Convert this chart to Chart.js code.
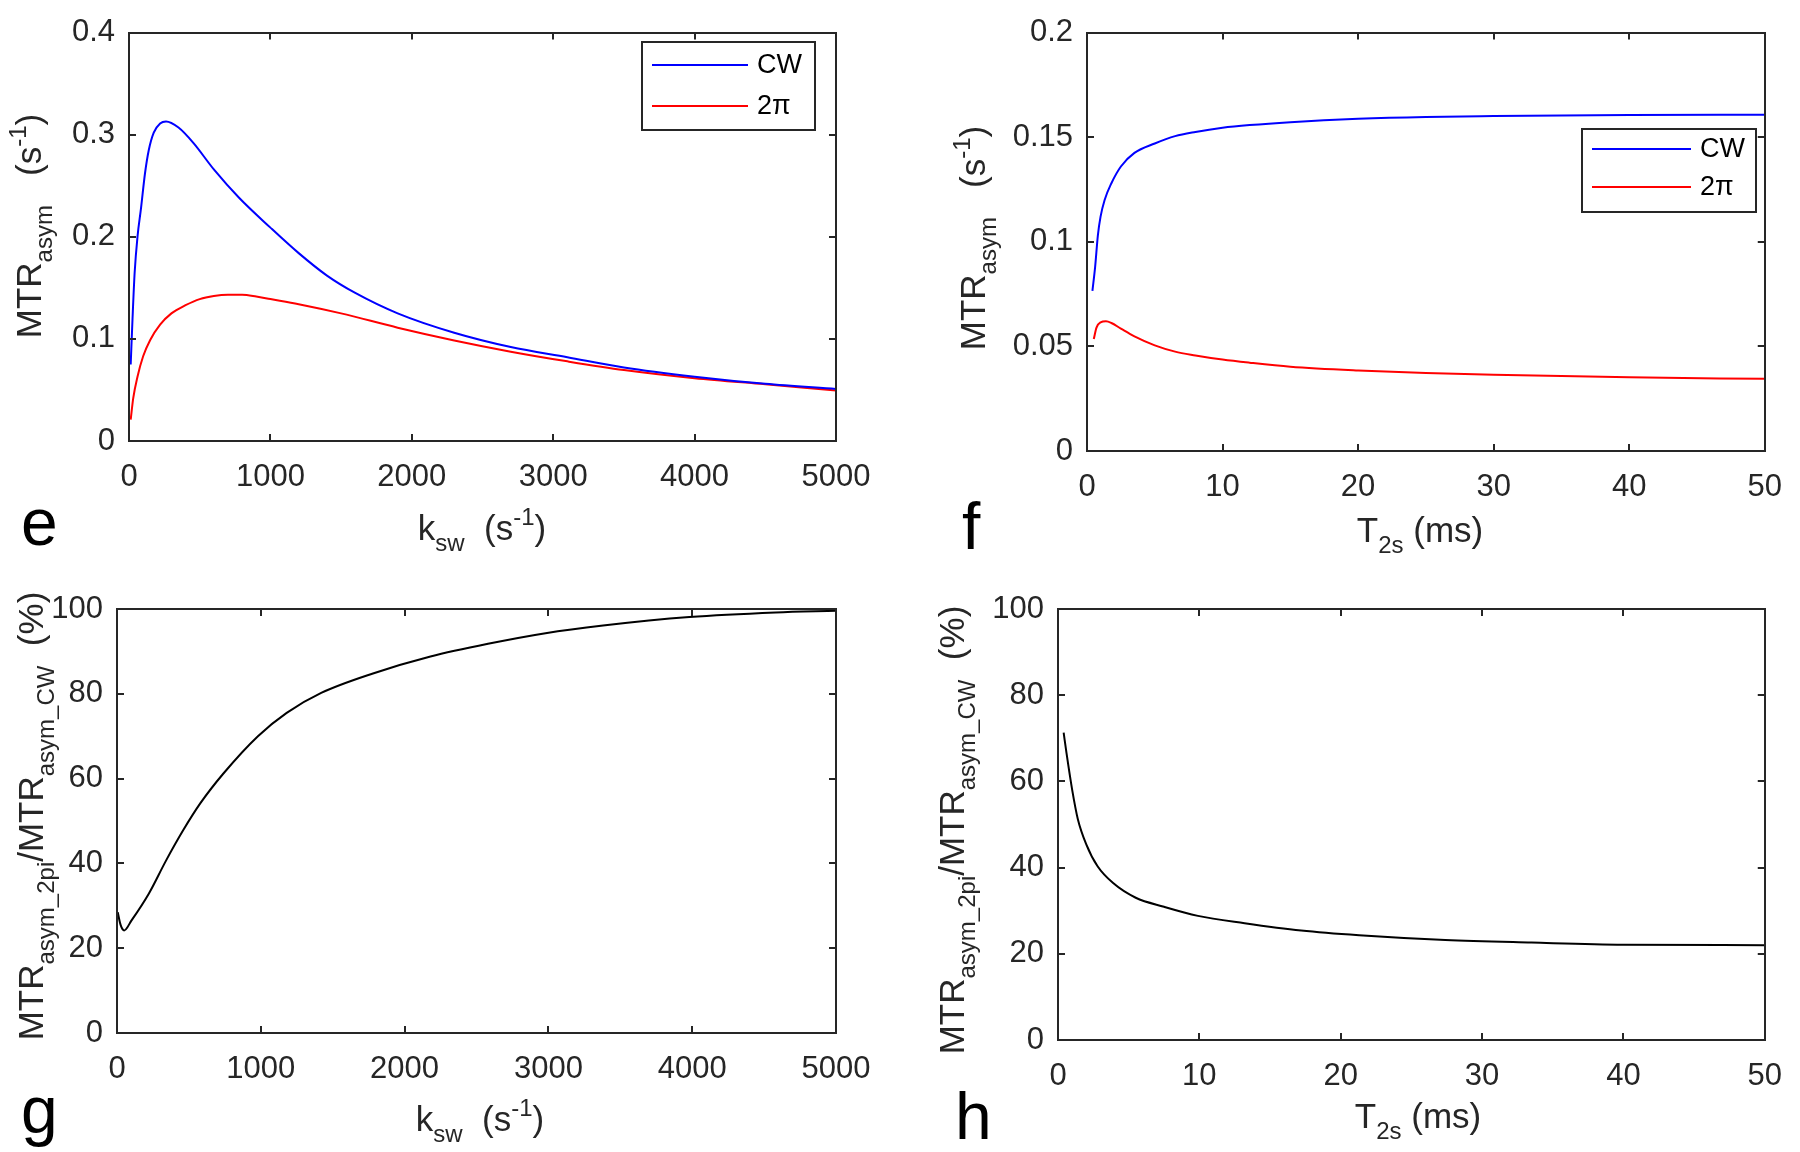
<!DOCTYPE html>
<html>
<head>
<meta charset="utf-8">
<script src="https://cdn.jsdelivr.net/npm/chart.js@4.4.0/dist/chart.umd.min.js"></script>
<style>
  html, body { margin: 0; padding: 0; background: #fff; }
  #wrap { position: relative; width: 1800px; height: 1152px; overflow: hidden; }
  .panel { position: absolute; width: 900px; height: 576px; }
</style>
</head>
<body>
<div id="wrap">
  <div class="panel" style="left:0;top:0"><canvas id="chartE" width="900" height="576"></canvas></div>
  <div class="panel" style="left:900px;top:0"><canvas id="chartF" width="900" height="576"></canvas></div>
  <div class="panel" style="left:0;top:576px"><canvas id="chartG" width="900" height="576"></canvas></div>
  <div class="panel" style="left:900px;top:576px"><canvas id="chartH" width="900" height="576"></canvas></div>
</div>
<script>
// panel e : MTRasym vs k_sw
const eCwK = [12, 25, 40, 60, 85, 113, 140, 175, 220, 262, 350, 455, 600, 780, 1000, 1200, 1400, 1600, 1900, 2300, 2700, 3100, 3500, 4000, 4500, 5000];
const eCwVal = [0.075, 0.12, 0.165, 0.2, 0.228, 0.262, 0.285, 0.302, 0.311, 0.313, 0.307, 0.292, 0.266, 0.238, 0.209, 0.184, 0.162, 0.145, 0.125, 0.106, 0.092, 0.082, 0.072, 0.063, 0.056, 0.051];
const ePiK = [12, 30, 60, 100, 150, 220, 300, 400, 500, 600, 700, 800, 900, 1000, 1200, 1500, 1900, 2300, 2700, 3100, 3500, 4000, 4500, 5000];
const ePiVal = [0.021, 0.042, 0.063, 0.083, 0.099, 0.114, 0.125, 0.133, 0.139, 0.142, 0.1432, 0.1432, 0.1415, 0.139, 0.134, 0.125, 0.111, 0.0985, 0.0875, 0.078, 0.0695, 0.0615, 0.0555, 0.0495];

// panel f : MTRasym vs T2s
const fCwT = [0.4, 0.6, 0.8, 1.0, 1.3, 1.8, 2.5, 3.5, 5, 6.5, 8, 10, 12, 15, 20, 25, 30, 40, 50];
const fCwVal = [0.0765, 0.088, 0.103, 0.112, 0.12, 0.128, 0.136, 0.1425, 0.147, 0.1505, 0.1525, 0.1545, 0.1558, 0.1572, 0.1588, 0.1597, 0.1601, 0.1606, 0.1607];
const fPiT = [0.5, 0.7, 1.0, 1.4, 1.8, 2.5, 3.5, 5, 6.5, 8, 10, 12, 15, 20, 25, 30, 40, 50];
const fPiVal = [0.0535, 0.059, 0.0615, 0.062, 0.0612, 0.0585, 0.0548, 0.0505, 0.0475, 0.0457, 0.0437, 0.0422, 0.0403, 0.0385, 0.0373, 0.0364, 0.0352, 0.0345];

// panel g : ratio vs k_sw
const gK = [5, 25, 50, 100, 220, 340, 460, 580, 740, 980, 1180, 1420, 1780, 2180, 2580, 2980, 3380, 3980, 4580, 5000];
const gRatio = [28.5, 25.5, 24.2, 26.5, 32.8, 40.6, 47.8, 54.2, 61.2, 70.0, 75.5, 80.2, 84.8, 88.8, 91.8, 94.3, 96.1, 98.1, 99.2, 99.6];

// panel h : ratio vs T2s
const hT = [0.4, 0.6, 1.0, 1.4, 2.0, 2.8, 3.9, 5.5, 7.5, 9.9, 13.2, 17.2, 21.3, 27.4, 33.5, 40, 50];
const hRatio = [71.3, 66.6, 58.1, 51.3, 45.4, 40.3, 36.4, 33.0, 30.9, 28.8, 27.1, 25.4, 24.3, 23.2, 22.6, 22.1, 22.0];

const kswTicks = [0, 1000, 2000, 3000, 4000, 5000];
const t2sTicks = [0, 10, 20, 30, 40, 50];
const eYTicks = [0, 0.1, 0.2, 0.3, 0.4];
const fYTicks = [0, 0.05, 0.1, 0.15, 0.2];
const pctTicks = [0, 20, 40, 60, 80, 100];

const FONT = '"Liberation Sans", Arial, Helvetica, sans-serif';
const INK = '#262626';

const mtrTitle = [{ t: 'MTR' }, { t: 'asym', sub: true }, { t: '   (s' }, { t: '-1', sup: true }, { t: ')' }];
const ratioTitle = [{ t: 'MTR' }, { t: 'asym_2pi', sub: true }, { t: '/MTR' }, { t: 'asym_CW', sub: true }, { t: '  (%)' }];
const kswTitle = [{ t: 'k' }, { t: 'sw', sub: true }, { t: '  (s' }, { t: '-1', sup: true }, { t: ')' }];
const t2sTitle = [{ t: 'T' }, { t: '2s', sub: true }, { t: ' (ms)' }];

// per-panel decorations (titles, letter, legend), in canvas coordinates
const panelDeco = {
  chartE: { letter: 'e', lx: 21, ly: 545, xt: kswTitle, xtx: 482, xty: 540, yt: mtrTitle, ytx: 41, yty: 226,
            legend: { l: 642, t: 42, r: 815, b: 130, x0: 652, x1: 748, ys: [65, 106], tx: 757 } },
  chartF: { letter: 'f', lx: 62, ly: 549, xt: t2sTitle, xtx: 520, xty: 542, yt: mtrTitle, ytx: 85, yty: 238,
            legend: { l: 682, t: 129, r: 856, b: 212, x0: 692, x1: 791, ys: [149, 187], tx: 800 } },
  chartG: { letter: 'g', lx: 21, ly: 557, xt: kswTitle, xtx: 480, xty: 555, yt: ratioTitle, ytx: 43, yty: 240 },
  chartH: { letter: 'h', lx: 55, ly: 563, xt: t2sTitle, xtx: 518, xty: 552, yt: ratioTitle, ytx: 64, yty: 254 }
};

function fontFor(seg, size) {
  const s = (seg.sub || seg.sup) ? Math.round(size * 0.68) : size;
  return s + 'px ' + FONT;
}

function drawRich(ctx, segs, x, y, size, rotate) {
  ctx.save();
  ctx.translate(x, y);
  if (rotate) ctx.rotate(-Math.PI / 2);
  ctx.textAlign = 'left';
  ctx.textBaseline = 'alphabetic';
  ctx.fillStyle = INK;
  let total = 0;
  const widths = segs.map(s => {
    ctx.font = fontFor(s, size);
    const w = ctx.measureText(s.t).width;
    total += w;
    return w;
  });
  let cx = -total / 2;
  segs.forEach((s, i) => {
    ctx.font = fontFor(s, size);
    const dy = s.sub ? size * 0.3 : (s.sup ? -size * 0.42 : 0);
    ctx.fillText(s.t, cx, dy);
    cx += widths[i];
  });
  ctx.restore();
}

const matlabFrame = {
  id: 'matlabFrame',
  afterDraw(chart) {
    const deco = panelDeco[chart.canvas.id];
    const ctx = chart.ctx;
    const a = chart.chartArea;
    const xs = chart.scales.x, ys = chart.scales.y;
    ctx.save();
    ctx.strokeStyle = INK;
    ctx.lineWidth = 2;
    ctx.strokeRect(Math.round(a.left), Math.round(a.top), Math.round(a.right - a.left), Math.round(a.bottom - a.top));
    ctx.beginPath();
    xs.ticks.forEach(t => {
      if (t.value === xs.min || t.value === xs.max) return;
      const px = Math.round(xs.getPixelForValue(t.value));
      ctx.moveTo(px, a.bottom); ctx.lineTo(px, a.bottom - 7);
      ctx.moveTo(px, a.top); ctx.lineTo(px, a.top + 7);
    });
    ys.ticks.forEach(t => {
      if (t.value === ys.min || t.value === ys.max) return;
      const py = Math.round(ys.getPixelForValue(t.value));
      ctx.moveTo(a.left, py); ctx.lineTo(a.left + 7, py);
      ctx.moveTo(a.right, py); ctx.lineTo(a.right - 7, py);
    });
    ctx.stroke();

    // axis titles
    drawRich(ctx, deco.xt, deco.xtx, deco.xty, 35, false);
    drawRich(ctx, deco.yt, deco.ytx, deco.yty, 35, true);

    // panel letter
    ctx.fillStyle = '#000';
    ctx.font = '66px ' + FONT;
    ctx.textAlign = 'left';
    ctx.textBaseline = 'alphabetic';
    ctx.fillText(deco.letter, deco.lx, deco.ly);

    // legend box
    const lg = deco.legend;
    if (lg) {
      ctx.fillStyle = '#fff';
      ctx.fillRect(lg.l, lg.t, lg.r - lg.l, lg.b - lg.t);
      ctx.strokeStyle = INK;
      ctx.lineWidth = 2;
      ctx.strokeRect(lg.l, lg.t, lg.r - lg.l, lg.b - lg.t);
      chart.data.datasets.forEach((ds, i) => {
        ctx.strokeStyle = ds.borderColor;
        ctx.lineWidth = 2;
        ctx.beginPath();
        ctx.moveTo(lg.x0, lg.ys[i]);
        ctx.lineTo(lg.x1, lg.ys[i]);
        ctx.stroke();
        ctx.fillStyle = '#000';
        ctx.font = '27px ' + FONT;
        ctx.textBaseline = 'middle';
        ctx.fillText(ds.label, lg.tx, lg.ys[i] + 1);
      });
    }
    ctx.restore();
  }
};

function toPoints(xs, ys) {
  return xs.map((x, i) => ({ x: x, y: ys[i] }));
}

function makeChart(id, datasets, xTicks, yTicks, box) {
  return new Chart(document.getElementById(id), {
    type: 'line',
    data: {
      datasets: datasets.map(d => ({
        label: d.label,
        data: d.data,
        borderColor: d.color,
        borderWidth: 2,
        pointRadius: 0,
        fill: false,
        cubicInterpolationMode: 'monotone'
      }))
    },
    options: {
      responsive: false,
      animation: false,
      layout: { padding: { left: 0, top: box.top, right: box.right, bottom: 0 } },
      plugins: { legend: { display: false }, tooltip: { enabled: false } },
      scales: {
        x: {
          type: 'linear',
          min: xTicks[0],
          max: xTicks[xTicks.length - 1],
          grid: { display: false, drawTicks: false },
          border: { display: false },
          afterBuildTicks: s => { s.ticks = xTicks.map(v => ({ value: v })); },
          afterFit: s => { s.height = box.xh; },
          ticks: {
            padding: 18,
            color: INK,
            font: { family: FONT, size: 31 },
            maxRotation: 0,
            callback: v => String(v)
          }
        },
        y: {
          type: 'linear',
          min: yTicks[0],
          max: yTicks[yTicks.length - 1],
          grid: { display: false, drawTicks: false },
          border: { display: false },
          afterBuildTicks: s => { s.ticks = yTicks.map(v => ({ value: v })); },
          afterFit: s => { s.width = box.yw; },
          ticks: {
            padding: 14,
            color: INK,
            font: { family: FONT, size: 31 },
            callback: v => String(v)
          }
        }
      }
    },
    plugins: [matlabFrame]
  });
}

makeChart('chartE', [
  { label: 'CW', data: toPoints(eCwK, eCwVal), color: '#0000ff' },
  { label: '2π', data: toPoints(ePiK, ePiVal), color: '#ff0000' }
], kswTicks, eYTicks, { top: 19, right: 64, yw: 129, xh: 135 });

makeChart('chartF', [
  { label: 'CW', data: toPoints(fCwT, fCwVal), color: '#0000ff' },
  { label: '2π', data: toPoints(fPiT, fPiVal), color: '#ff0000' }
], t2sTicks, fYTicks, { top: 19, right: 24, yw: 187, xh: 125 });

makeChart('chartG', [
  { label: 'ratio', data: toPoints(gK, gRatio), color: '#000000' }
], kswTicks, pctTicks, { top: 33, right: 64, yw: 117, xh: 119 });

makeChart('chartH', [
  { label: 'ratio', data: toPoints(hT, hRatio), color: '#000000' }
], t2sTicks, pctTicks, { top: 33, right: 32, yw: 158, xh: 112 });
</script>
</body>
</html>
